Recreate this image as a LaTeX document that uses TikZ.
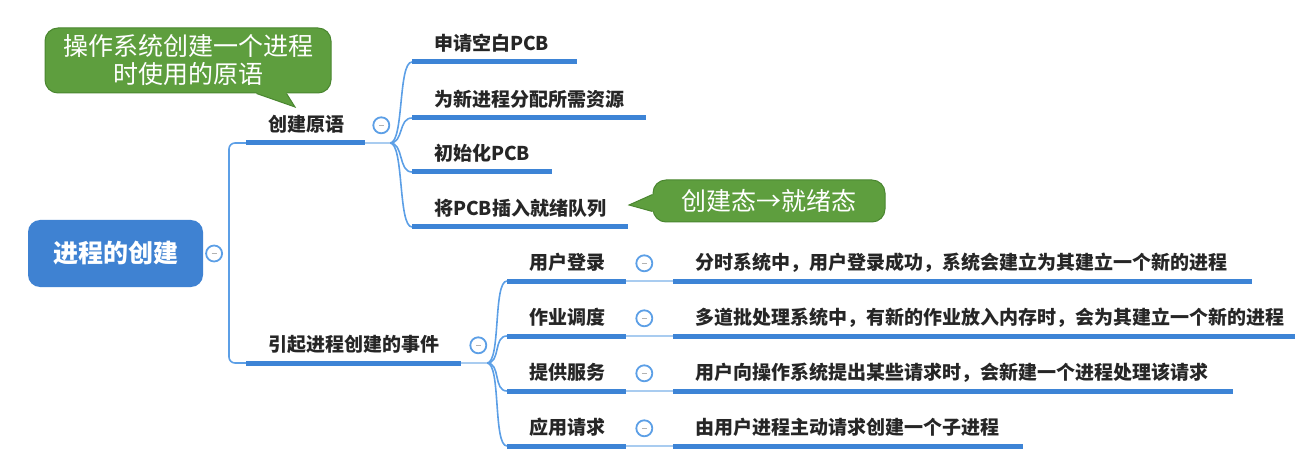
\documentclass[tikz,border=0pt]{standalone}
\usepackage{fontspec}
\newfontfamily\cjk{Noto Sans CJK SC}
\usepackage{tikz}
\usetikzlibrary{calc,positioning}
\definecolor{rootblue}{HTML}{3F82D2}
\definecolor{mapblue}{HTML}{3D84D6}
\definecolor{linkblue}{HTML}{5C9FE6}
\definecolor{paleblue}{HTML}{A9CCF0}
\definecolor{notegreen}{HTML}{5E9E3E}
\definecolor{noteline}{HTML}{4A8630}
\tikzset{root/.style={rounded corners=12pt,fill=rootblue,minimum width=175pt,minimum
height=67pt,inner sep=0pt,text=white,font=\cjk\bfseries\fontsize{25}{25}\selectfont},
leaf/.style={anchor=south west,inner xsep=22pt,inner ysep=9pt,text height=15pt,text
depth=2pt,align=left,text=black!85,font=\cjk\bfseries\fontsize{19}{19}\selectfont},
fold/.style={circle,draw=linkblue,line width=1.8pt,fill=white,minimum size=16pt,inner
sep=0pt,path picture={\draw[black!30,line width=1pt]
($(path picture bounding box.center)+(-2.5pt,0)$) -- ++(5pt,0);}},
note/.style={draw=noteline,fill=notegreen,line width=1pt,rounded corners=13pt,inner
sep=0pt,text=white,align=center,font=\cjk\fontsize{25}{28}\selectfont}}
\tikzstyle{branch} = [to path={.. controls +(14,0) and +(-14,0) .. (\tikztotarget)}]
\tikzstyle{pale}   = [draw=paleblue]

\begin{document}
\begin{tikzpicture}[x=1pt,y=-1pt]
		\useasboundingbox (0,0) rectangle (1316,470);

		\node[root] (R) at (115.5,253.5) {进程的创建};
		\node[leaf,text width=75pt] (P) at (246,143) {创建原语};
		\node[leaf,text width=171pt] (E) at (246,363) {引起进程创建的事件};

		\node[leaf,text width=121pt] (P1) at (412,62) {申请空白PCB};
		\node[leaf,text width=190pt] (P2) at (412,118) {为新进程分配所需资源};
		\node[leaf,text width=96pt] (P3) at (412,172) {初始化PCB};
		\node[leaf,text width=172pt] (P4) at (412,227) {将PCB插入就绪队列};

		\node[leaf,text width=75pt] (E1) at (507,281) {用户登录};
		\node[leaf,text width=75pt] (E2) at (507,336) {作业调度};
		\node[leaf,text width=75pt] (E3) at (507,391) {提供服务};
		\node[leaf,text width=75pt] (E4) at (507,446) {应用请求};

		\node[leaf,text width=534pt,right=47pt of E1] (D1) {分时系统中，用户登录成功，系统会建立为其建立一个新的进程};
		\node[leaf,text width=577pt,right=47pt of E2] (D2) {多道批处理系统中，有新的作业放入内存时，会为其建立一个新的进程};
		\node[leaf,text width=515pt,right=47pt of E3] (D3) {用户向操作系统提出某些请求时，会新建一个进程处理该请求};
		\node[leaf,text width=305pt,right=47pt of E4] (D4) {由用户进程主动请求创建一个子进程};

		\coordinate (J) at (229,253.5);
		\coordinate (K1) at (390,143);
		\coordinate (K2) at (487,363);

		\begin{scope}[every edge/.style={draw=linkblue,line width=1.6pt}]
			\path (J) edge (R.east -| J);
			\draw[linkblue,line width=1.6pt,rounded corners=6pt] (P.south west) -| (J) |- (E.south west);
			\path (K1) edge[branch] (P1.south west);
			\path (K1) edge[branch] (P2.south west);
			\path (K1) edge[branch] (P3.south west);
			\path (K1) edge[branch] (P4.south west);
			\path (K2) edge[branch] (E1.south west);
			\path (K2) edge[branch] (E2.south west);
			\path (K2) edge[branch] (E3.south west);
			\path (K2) edge[branch] (E4.south west);
			\path (P.south east) edge[pale] (K1);
			\path (E.south east) edge[pale] (K2);
			\path (E1.south east) edge[pale] (D1.south west);
			\path (E2.south east) edge[pale] (D2.south west);
			\path (E3.south east) edge[pale] (D3.south west);
			\path (E4.south east) edge[pale] (D4.south west);
		\end{scope}

		\begin{scope}[every edge/.style={draw=mapblue,line width=5pt}]
			\path (P.south west) edge (P.south east);
			\path (E.south west) edge (E.south east);
			\path (P1.south west) edge (P1.south east);
			\path (P2.south west) edge (P2.south east);
			\path (P3.south west) edge (P3.south east);
			\path (P4.south west) edge (P4.south east);
			\path (E1.south west) edge (E1.south east);
			\path (E2.south west) edge (E2.south east);
			\path (E3.south west) edge (E3.south east);
			\path (E4.south west) edge (E4.south east);
			\path (D1.south west) edge (D1.south east);
			\path (D2.south west) edge (D2.south east);
			\path (D3.south west) edge (D3.south east);
			\path (D4.south west) edge (D4.south east);
		\end{scope}

		\node[fold,right=2pt of R] (C0) {};
		\node[fold,right=7pt of P] (C1) {};
		\node[fold,right=8pt of E] (C2) {};
		\node[fold,right=9pt of E1] (F1) {};
		\node[fold,right=9pt of E2] (F2) {};
		\node[fold,right=9pt of E3] (F3) {};
		\node[fold,right=9pt of E4] (F4) {};

		\node[note,minimum width=286pt,minimum height=65pt] (N1) at (188,60.5) {操作系统创建一个进程\\时使用的原语};
		\node[note,minimum width=232pt,minimum height=42pt] (N2) at (769,201) {创建态→就绪态};
		\coordinate (T1) at (295,107);
		\coordinate (T2) at (629,205);
		\fill[notegreen] ([xshift=212pt,yshift=2pt]N1.south west) -- ([xshift=212pt]N1.south west)
			-- (T1) -- ([xshift=242pt]N1.south west) -- ([xshift=242pt,yshift=2pt]N1.south west) -- cycle;
		\draw[noteline,line width=1pt] ([xshift=212pt]N1.south west) -- (T1) -- ([xshift=242pt]N1.south west);
		\fill[notegreen] ([xshift=2pt,yshift=-15pt]N2.north west) -- ([yshift=-15pt]N2.north west)
			-- (T2) -- ([yshift=-32pt]N2.north west) -- ([xshift=2pt,yshift=-32pt]N2.north west) -- cycle;
		\draw[noteline,line width=1pt] ([yshift=-15pt]N2.north west) -- (T2) -- ([yshift=-32pt]N2.north west);
	\end{tikzpicture}
\end{document}
